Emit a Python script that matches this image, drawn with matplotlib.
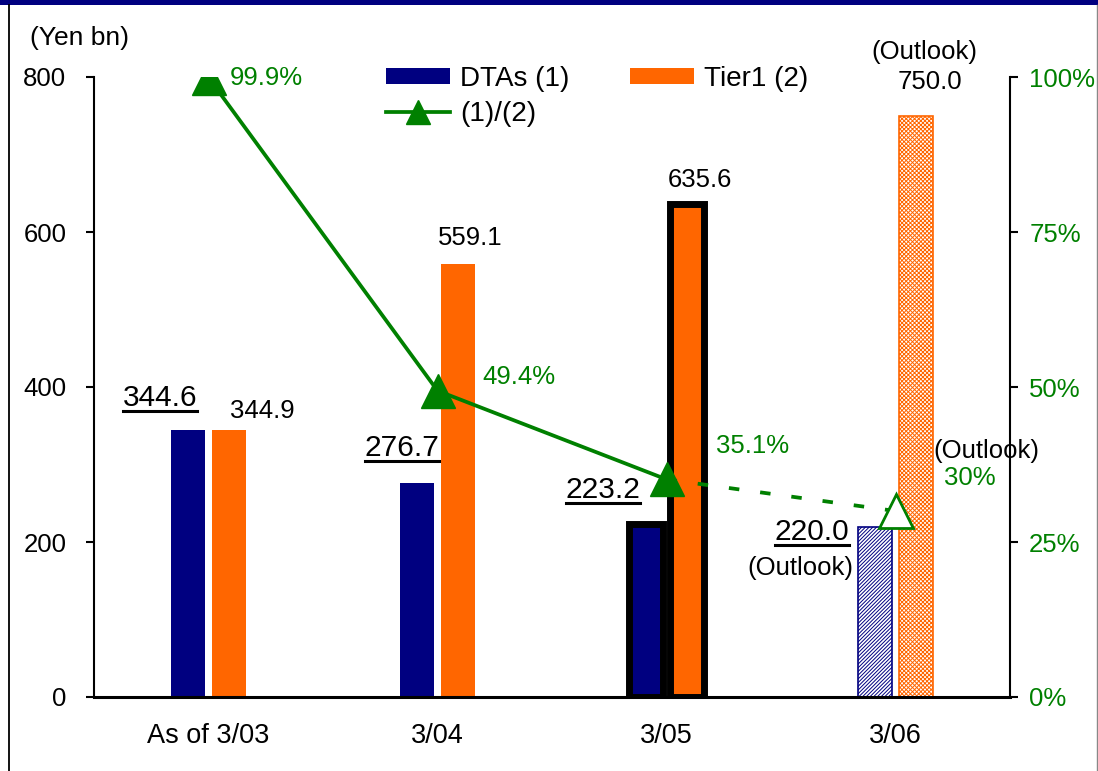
import matplotlib
matplotlib.use("Agg")
import matplotlib.pyplot as plt
from matplotlib.lines import Line2D
from matplotlib.patches import Patch, Rectangle
import numpy as np

plt.rcParams['font.family'] = ['Liberation Sans', 'DejaVu Sans']
plt.rcParams['hatch.linewidth'] = 0.7

# ---- data -------------------------------------------------------------
categories = ['As of 3/03', '3/04', '3/05', '3/06']
dtas = [344.6, 276.7, 223.2, 220.0]
tier1 = [344.9, 559.1, 635.6, 750.0]
ratio = [0.999, 0.494, 0.351, 0.30]
ratio_labels = ['99.9%', '49.4%', '35.1%', '30%']
left_ticks = [0, 200, 400, 600, 800]
right_ticks = [0, 0.25, 0.5, 0.75, 1.0]
right_tick_labels = ['0%', '25%', '50%', '75%', '100%']

# ---- style ------------------------------------------------------------
NAVY = '#000080'
ORANGE = '#FF6600'
GREEN = '#008000'
FS = 18.5
FS_X = 19.5
FS_LEG = 20
FS_BIG = 21.5
LW_LINE = 2.7

W, H = 1098, 771
fig = plt.figure(figsize=(W / 100, H / 100), dpi=100)
ax = fig.add_axes([94 / W, 74 / H, 916 / W, 620 / H])
ax2 = ax.twinx()

x = np.arange(len(categories))
off = 0.0895
bw = 0.150

# bars: actuals solid, 3/05 outlined heavily, 3/06 outlook hatched
for i in range(len(categories)):
    if i < 2:
        ax.bar(x[i] - off, dtas[i], bw, color=NAVY, zorder=2)
        ax.bar(x[i] + off, tier1[i], bw, color=ORANGE, zorder=2)
    elif i == 2:
        ax.bar(x[i] - off, dtas[i], bw, facecolor=NAVY, edgecolor='black',
               linewidth=5.0, joinstyle='miter', zorder=2)
        ax.bar(x[i] + off, tier1[i], bw, facecolor=ORANGE, edgecolor='black',
               linewidth=5.0, joinstyle='miter', zorder=2)
    else:
        ax.bar(x[i] - off, dtas[i], bw, facecolor='white', edgecolor=NAVY,
               hatch='/////////', linewidth=1.2, zorder=2)
        ax.bar(x[i] + off, tier1[i], bw, facecolor='white', edgecolor=ORANGE,
               hatch='xxxxxxxx', linewidth=1.2, zorder=2)

ax.set_xlim(-0.5, 3.5)
ax.set_ylim(0, 800)
ax2.set_ylim(0, 1)

# ratio line: outlook segment dashed with open marker
ax2.plot(x[2:], ratio[2:], color=GREEN, lw=LW_LINE, linestyle=(0, (2.8, 5.6)),
         marker='^', markevery=[1], ms=25, mfc='white', mec=GREEN, mew=2.0,
         zorder=3)
ax2.plot(x[:3], ratio[:3], color=GREEN, lw=LW_LINE, marker='^', ms=25,
         mfc=GREEN, mec=GREEN, zorder=4)

# axes styling
for s in ['top', 'right']:
    ax.spines[s].set_visible(False)
for s in ['top', 'left', 'bottom']:
    ax2.spines[s].set_visible(False)
ax.spines['left'].set_linewidth(1.5)
ax.spines['bottom'].set_linewidth(2.2)
ax2.spines['right'].set_linewidth(1.5)

ax.set_xticks(x)
ax.set_xticklabels(categories, fontsize=FS_X)
ax.tick_params(axis='x', length=0, pad=18.5)
ax.set_yticks(left_ticks)
ax.set_yticklabels([str(v) for v in left_ticks], fontsize=FS)
ax.tick_params(axis='y', direction='out', length=5.8, width=1.5, pad=14)
ax2.set_yticks(right_ticks)
ax2.set_yticklabels(right_tick_labels, fontsize=FS, color=GREEN)
ax2.tick_params(axis='y', direction='out', length=5.8, width=1.5, pad=8)

# value labels (offsets in pixels from the bar top / marker)
dta_off = [(-28, 32), (-15, 35), (-43, 34), (-63, -5.5)]
tier_off = [(33, 19), (12, 26), (13, 24), (14, 34)]
underlined = []
for i in range(len(categories)):
    t = ax.annotate(f'{dtas[i]:.1f}', xy=(x[i] - off, dtas[i]), xytext=dta_off[i],
                    textcoords='offset pixels', ha='center', va='center',
                    fontsize=FS_BIG, zorder=5)
    underlined.append(t)
    ax.annotate(f'{tier1[i]:.1f}', xy=(x[i] + off, tier1[i]), xytext=tier_off[i],
                textcoords='offset pixels', ha='center', va='center',
                fontsize=FS, zorder=5)
ax.annotate('(Outlook)', xy=(x[3] - off, dtas[3]), xytext=(-75, -41.5),
            textcoords='offset pixels', ha='center', va='center', fontsize=FS)
ax.annotate('(Outlook)', xy=(x[3] + off, tier1[3]), xytext=(8.5, 64),
            textcoords='offset pixels', ha='center', va='center', fontsize=FS)

ratio_off = [(21.5, 0), (44.5, 14), (49.5, 33)]
for i in range(3):
    ax2.annotate(ratio_labels[i], xy=(x[i], ratio[i]), xytext=ratio_off[i],
                 textcoords='offset pixels', ha='left', va='center',
                 fontsize=FS, color=GREEN, zorder=6)
ax2.annotate(ratio_labels[3], xy=(x[3], ratio[3]), xytext=(74.5, 33),
             textcoords='offset pixels', ha='center', va='center',
             fontsize=FS, color=GREEN, zorder=6)
ax2.annotate('(Outlook)', xy=(x[3], ratio[3]), xytext=(90.5, 60),
             textcoords='offset pixels', ha='center', va='center',
             fontsize=FS, zorder=6)

# legend
h_dta = Patch(facecolor=NAVY, edgecolor='none')
h_tier = Patch(facecolor=ORANGE, edgecolor='none')
h_ratio = Line2D([], [], color=GREEN, lw=LW_LINE, marker='^', ms=17, mfc=GREEN, mec=GREEN)
ax2.legend([h_dta, h_ratio, h_tier], ['DTAs (1)', '(1)/(2)', 'Tier1 (2)'],
           ncol=2, loc='upper left', bbox_to_anchor=(386 / W, 1 - 66 / H),
           bbox_transform=fig.transFigure, frameon=False, fontsize=FS_LEG,
           handlelength=2.3, handleheight=0.54, handletextpad=0.36,
           columnspacing=2.2, labelspacing=0.32, borderpad=0, borderaxespad=0)

# unit caption and page frame
fig.text(79 / W, 1 - 38 / H, '(Yen bn)', ha='center', va='center', fontsize=19)
fig.add_artist(Rectangle((0, 1 - 5 / H), 1, 5 / H, facecolor=NAVY,
                         edgecolor='none', transform=fig.transFigure))
fig.add_artist(Line2D([9 / W, 9 / W], [0, 1 - 5 / H], color='black', lw=1.3,
                      transform=fig.transFigure))
fig.add_artist(Line2D([1096.5 / W, 1096.5 / W], [0, 1 - 5 / H], color='#888888',
                      lw=1.0, transform=fig.transFigure))

# underline the DTA figures
fig.canvas.draw()
renderer = fig.canvas.get_renderer()
for t in underlined:
    bb = t.get_window_extent(renderer)
    yy = (bb.y0 + 1.0) / H
    fig.add_artist(Line2D([bb.x0 / W, bb.x1 / W], [yy, yy], color='black',
                          lw=2.2, transform=fig.transFigure))

fig.savefig('out.png', dpi=100)
